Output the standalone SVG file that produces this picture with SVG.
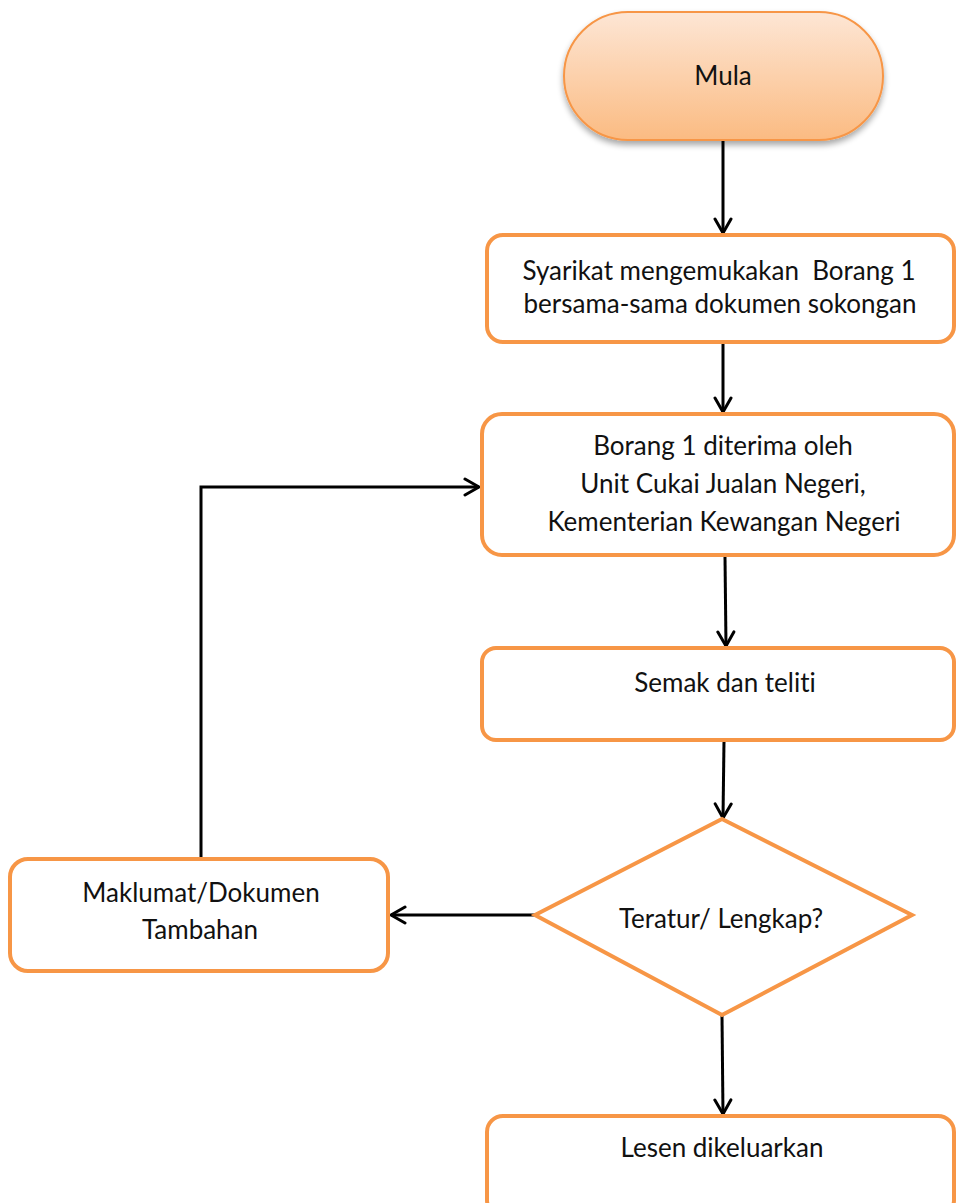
<svg xmlns="http://www.w3.org/2000/svg" width="956" height="1203" viewBox="0 0 956 1203">
<defs>
<linearGradient id="gMula" x1="0" y1="0" x2="0" y2="1">
<stop offset="0" stop-color="#fde6d5"/>
<stop offset="1" stop-color="#fbbb82"/>
</linearGradient>
<filter id="shadow" x="-20%" y="-20%" width="140%" height="150%">
<feGaussianBlur in="SourceAlpha" stdDeviation="3"/>
<feOffset dx="0" dy="4"/>
<feComponentTransfer><feFuncA type="linear" slope="0.35"/></feComponentTransfer>
<feMerge><feMergeNode/><feMergeNode in="SourceGraphic"/></feMerge>
</filter>
<marker id="arr" viewBox="0 0 20 20" refX="18" refY="10" markerWidth="20" markerHeight="20" markerUnits="userSpaceOnUse" orient="auto">
<path d="M4,2 L18,10 L4,18" fill="none" stroke="#000" stroke-width="3" stroke-linecap="round" stroke-linejoin="round"/>
</marker>
</defs>
<style>
.box{fill:#fff;stroke:#f79646;stroke-width:4}
.t{font-family:Lato,"Liberation Sans",sans-serif;font-size:26px;fill:#111;text-anchor:middle;white-space:pre;font-variant-ligatures:none}
.c{fill:none;stroke:#000;stroke-width:3;marker-end:url(#arr)}
</style>
<rect width="956" height="1203" fill="#fff"/>
<g id="connectors">
<line class="c" x1="723" y1="141" x2="723" y2="233"/>
<line class="c" x1="723" y1="343" x2="723" y2="412"/>
<line class="c" x1="725" y1="557" x2="726" y2="646"/>
<line class="c" x1="724" y1="741" x2="723" y2="818"/>
<line class="c" x1="535" y1="915" x2="391" y2="915"/>
<polyline class="c" points="201,858 201,487 479,487"/>
<line class="c" x1="722" y1="1016" x2="723" y2="1114"/>
</g>
<g id="mula">
<rect x="564" y="12" width="319" height="128" rx="64" fill="url(#gMula)" stroke="#f79646" stroke-width="2" filter="url(#shadow)"/>
<text class="t" x="723" y="85">Mula</text>
</g>
<g id="syarikat">
<rect class="box" x="487" y="235" width="467" height="107" rx="16"/>
<text class="t" x="719" y="280">Syarikat mengemukakan  Borang 1</text>
<text class="t" x="720" y="313">bersama-sama dokumen sokongan</text>
</g>
<g id="diterima">
<rect class="box" x="482" y="414" width="472" height="141" rx="20"/>
<text class="t" x="723" y="455">Borang 1 diterima oleh</text>
<text class="t" x="723" y="493">Unit Cukai Jualan Negeri,</text>
<text class="t" x="724" y="531">Kementerian Kewangan Negeri</text>
</g>
<g id="semak">
<rect class="box" x="482" y="648" width="472" height="92" rx="14"/>
<text class="t" x="725" y="692">Semak dan teliti</text>
</g>
<g id="teratur">
<polygon class="box" points="722,819 912,915 722,1015 535,915"/>
<text class="t" x="721" y="928">Teratur/ Lengkap?</text>
</g>
<g id="maklumat">
<rect class="box" x="10" y="859" width="378" height="112" rx="18"/>
<text class="t" x="201" y="902">Maklumat/Dokumen</text>
<text class="t" x="200" y="939">Tambahan</text>
</g>
<g id="lesen">
<rect class="box" x="487" y="1116" width="467" height="100" rx="16"/>
<text class="t" x="722" y="1157">Lesen dikeluarkan</text>
</g>
</svg>
